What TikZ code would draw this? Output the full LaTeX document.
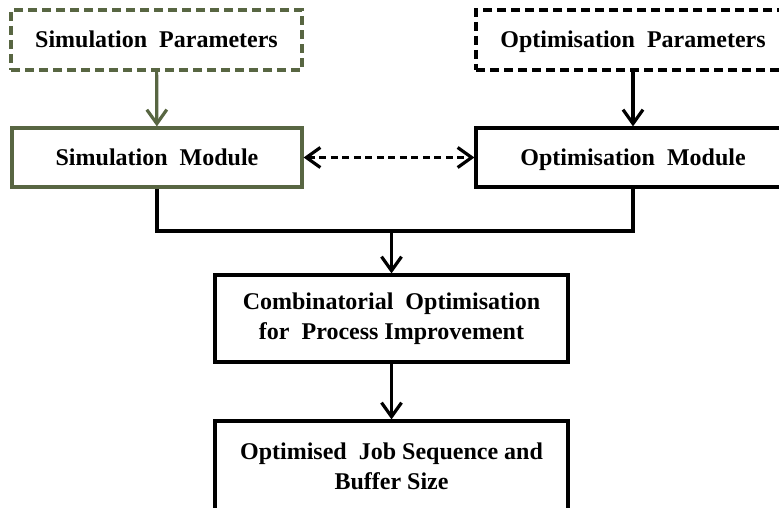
\documentclass[tikz,border=0pt]{standalone}
\usepackage{fontspec}
\setmainfont{Liberation Serif}
\usetikzlibrary{arrows.meta}
\definecolor{olive}{RGB}{88,102,66}
\tikzset{
  box/.style={draw, line width=3.2pt, inner sep=0pt, align=center,
    font=\fontsize{24}{30}\selectfont\bfseries},
  onebox/.style={box, text height=16pt, text depth=1pt},
  parbox/.style={onebox, dashed, dash pattern=on 9pt off 5pt},
  link/.style={line width=3.2pt},
  flow/.style={link, -{Straight Barb[length=14pt,width=20pt,line width=3.2pt]}},
}
\begin{document}
\begin{tikzpicture}[x=1pt,y=-1pt]
  \useasboundingbox (0,0) rectangle (779,508);
  \clip (0,0) rectangle (779,508);
  % inputs
  \node[parbox, draw=olive, minimum width=291pt, minimum height=60pt] (simp) at (156.5,40) {Simulation\ \ Parameters};
  \node[parbox, minimum width=314pt, minimum height=60pt] (optp) at (633,40) {Optimisation\ \ Parameters};
  % modules
  \node[onebox, draw=olive, minimum width=290pt, minimum height=59pt] (simm) at (157,157.5) {Simulation\ \ Module};
  \node[onebox, minimum width=314pt, minimum height=59pt] (optm) at (633,157.5) {Optimisation\ \ Module};
  % processing and result
  \node[box, minimum width=353pt, minimum height=87pt] (comb) at (391.5,318.5) {Combinatorial\ \ Optimisation\\for\ \ Process Improvement};
  \node[box, minimum width=353pt, minimum height=91pt] (res) at (391.5,466.5) {Optimised\ \ Job Sequence and\\Buffer Size};
  % connectors
  \draw[flow, draw=olive] (simp) -- (simm);
  \draw[flow] (optp) -- (optm);
  \draw[link, dashed, dash pattern=on 7pt off 4.5pt,
        {Straight Barb[length=14pt,width=20pt,line width=3.2pt]}-{Straight Barb[length=14pt,width=20pt,line width=3.2pt]}]
        (simm.east) -- (optm.west);
  \coordinate (j) at (391.5,231);
  \draw[link] (simm.south) |- (j) -| (optm.south);
  \draw[flow] (j) -- (comb.north);
  \draw[flow] (comb) -- (res);
\end{tikzpicture}
\end{document}
